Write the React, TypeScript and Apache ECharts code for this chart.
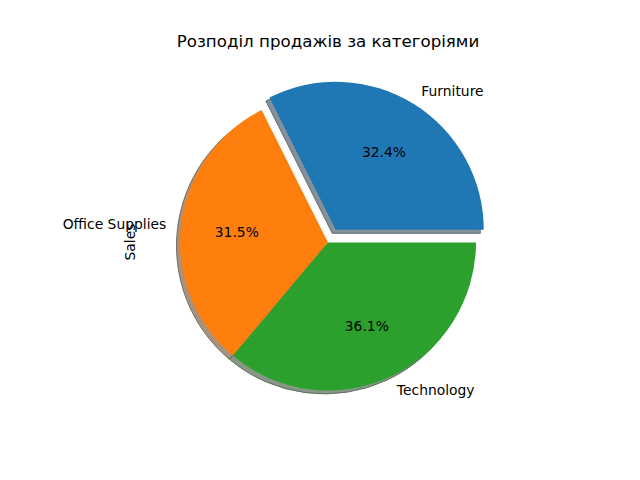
import React, { useEffect, useRef } from "react";
import * as echarts from "echarts";

const chartTitle = "Розподіл продажів за категоріями";
const axisLabel = "Sales";
const categories = ["Furniture", "Office Supplies", "Technology"];
const shares = [32.4, 31.5, 36.1];
const exploded = [true, false, false];
const sliceColors = ["#1f77b4", "#ff7f0e", "#2ca02c"];
const shadowColors = ["#84919a", "#a69281", "#869786"];
const shadowEdges = ["#5e6b73", "#7d6a5a", "#5f6f5f"];

const FONT = "DejaVu Sans";

export default function App() {
  const ref = useRef<HTMLDivElement>(null);
  useEffect(() => {
    if (!ref.current) return;
    const chart = echarts.init(ref.current, undefined, { renderer: "svg" });
    const cx = 328;
    const cy = 242.4;
    const R = 148;
    const explodeOffset = 0.1 * R;

    chart.setOption({
      animation: false,
      backgroundColor: "#ffffff",
      title: {
        text: chartTitle,
        left: cx - 5,
        textAlign: "center",
        top: 28,
        textStyle: { fontFamily: FONT, fontSize: 16.67, fontWeight: "normal", color: "#000" },
      },
      graphic: [
        {
          type: "text",
          x: 130,
          y: 242,
          rotation: Math.PI / 2,
          style: {
            text: axisLabel,
            font: `13.89px "${FONT}"`,
            fill: "#000",
            textAlign: "center",
            textVerticalAlign: "middle",
          },
        },
      ],
      series: [
        {
          type: "pie",
          name: "shadow",
          silent: true,
          center: [cx - 3.5, cy + 3.5],
          radius: [0, R],
          startAngle: 0,
          clockwise: false,
          selectedMode: "single",
          selectedOffset: explodeOffset,
          label: { show: false },
          labelLine: { show: false },
          emphasis: { disabled: true },
          data: categories.map((name, i) => ({
            name,
            value: shares[i],
            selected: exploded[i],
            itemStyle: { color: shadowColors[i], borderWidth: 1, borderColor: shadowEdges[i] },
            select: { itemStyle: { color: shadowColors[i], borderWidth: 1, borderColor: shadowEdges[i] } },
          })),
        },
        {
          type: "pie",
          name: "Sales",
          silent: true,
          center: [cx, cy],
          radius: [0, R],
          startAngle: 0,
          clockwise: false,
          avoidLabelOverlap: false,
          selectedMode: "single",
          selectedOffset: explodeOffset,
          label: {
            show: true,
            position: "outside",
            formatter: "{b}",
            fontFamily: FONT,
            fontSize: 13.89,
            color: "#000",
            distanceToLabelLine: 0,
            alignTo: "none",
          },
          labelLine: { show: false, length: 0.1 * R, length2: 0 },
          emphasis: { disabled: true },
          data: categories.map((name, i) => ({
            name,
            value: shares[i],
            selected: exploded[i],
            itemStyle: { color: sliceColors[i], borderWidth: 0 },
            select: { itemStyle: { color: sliceColors[i], borderWidth: 0 } },
          })),
        },
        {
          type: "pie",
          name: "pct",
          silent: true,
          center: [cx, cy],
          radius: [0.2 * R, R],
          startAngle: 0,
          clockwise: false,
          avoidLabelOverlap: false,
          selectedMode: "single",
          selectedOffset: explodeOffset,
          label: {
            show: true,
            position: "inside",
            formatter: "{d}%",
            fontFamily: FONT,
            fontSize: 13.89,
            color: "#000",
          },
          labelLine: { show: false },
          emphasis: { disabled: true },
          data: categories.map((name, i) => ({
            name,
            value: shares[i],
            selected: exploded[i],
            itemStyle: { color: "rgba(0,0,0,0)", borderWidth: 0 },
            select: { itemStyle: { color: "rgba(0,0,0,0)", borderWidth: 0 } },
          })),
        },
      ],
    });
    return () => chart.dispose();
  }, []);
  return (
    <div
      ref={ref}
      style={{ position: "absolute", left: 0, top: 0, width: 640, height: 480 }}
    />
  );
}
